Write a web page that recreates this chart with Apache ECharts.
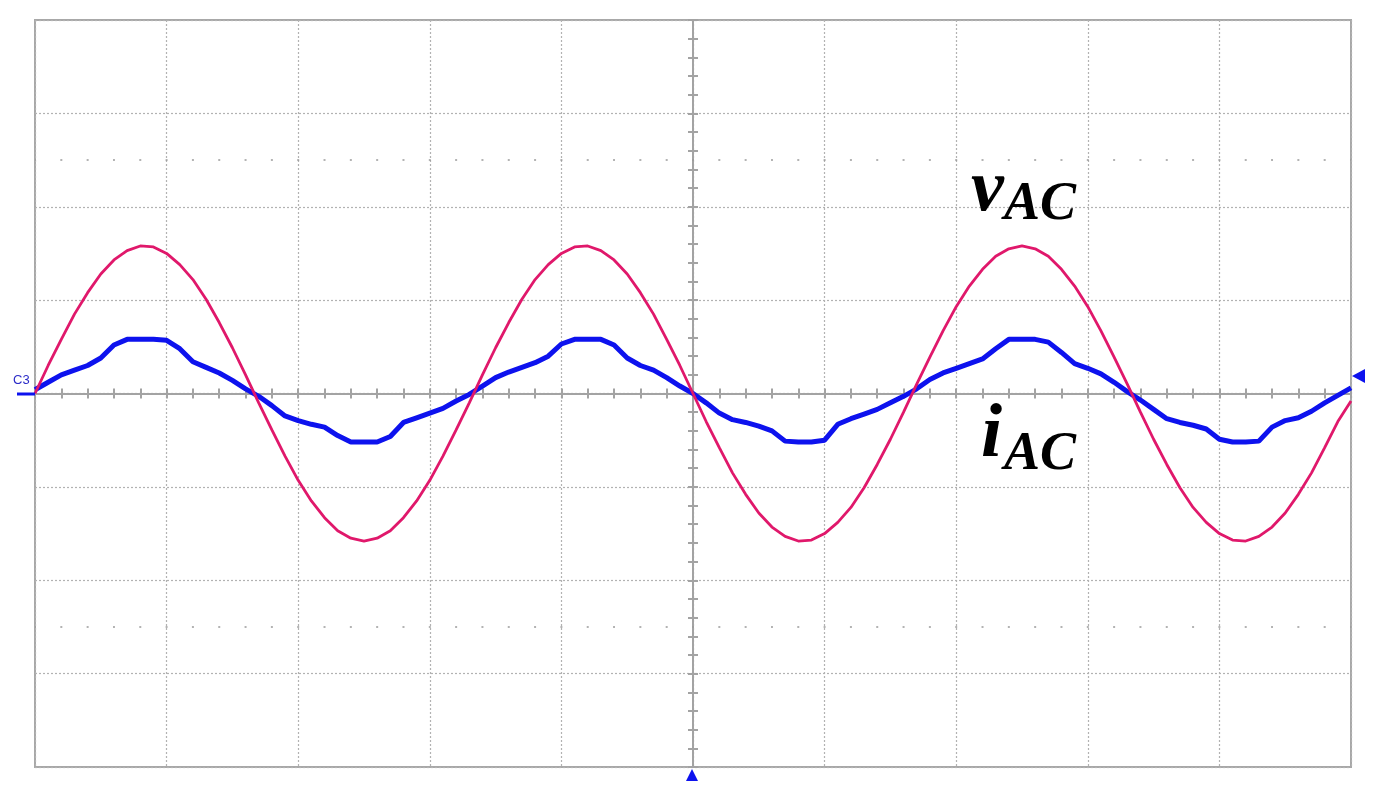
<!DOCTYPE html>
<html>
<head>
<meta charset="utf-8">
<style>
  html, body { margin: 0; padding: 0; background: #fff; }
  #scope { width: 1376px; height: 798px; }
</style>
<script src="https://cdn.jsdelivr.net/npm/echarts@6/dist/echarts.min.js"></script>
</head>
<body>
<div id="scope"></div>
<script>
// time base: divisions from screen centre, one sample every 0.1 div
var tStart = -5;
var tStep = 0.1;

// vAC trace (divisions)
var vAC = [0, 0.30, 0.58, 0.85, 1.08, 1.28, 1.43, 1.53, 1.58, 1.57,
    1.50, 1.38, 1.22, 1.01, 0.76, 0.49, 0.20, -0.10, -0.39, -0.67,
    -0.93, -1.15, -1.33, -1.47, -1.55, -1.58, -1.55, -1.47, -1.33, -1.15,
    -0.93, -0.67, -0.39, -0.10, 0.20, 0.49, 0.76, 1.01, 1.22, 1.38,
    1.50, 1.57, 1.58, 1.53, 1.43, 1.28, 1.08, 0.85, 0.58, 0.30,
    0, -0.30, -0.58, -0.85, -1.08, -1.28, -1.43, -1.53, -1.58, -1.57,
    -1.50, -1.38, -1.22, -1.01, -0.76, -0.49, -0.20, 0.10, 0.39, 0.67,
    0.93, 1.15, 1.33, 1.47, 1.55, 1.58, 1.55, 1.47, 1.33, 1.15,
    0.93, 0.67, 0.39, 0.10, -0.20, -0.49, -0.76, -1.01, -1.22, -1.38,
    -1.50, -1.57, -1.58, -1.53, -1.43, -1.28, -1.08, -0.85, -0.58, -0.30,
    -0.08];

// iAC trace (divisions)
var iAC = [0.04, 0.12, 0.20, 0.25, 0.30, 0.38, 0.52, 0.58, 0.58, 0.58,
    0.57, 0.48, 0.34, 0.28, 0.22, 0.14, 0.05, -0.03, -0.13, -0.24,
    -0.29, -0.33, -0.36, -0.45, -0.52, -0.52, -0.52, -0.46, -0.31, -0.26,
    -0.21, -0.16, -0.08, -0.01, 0.08, 0.17, 0.23, 0.28, 0.33, 0.40,
    0.53, 0.58, 0.58, 0.58, 0.52, 0.38, 0.30, 0.25, 0.17, 0.08,
    0.00, -0.10, -0.21, -0.28, -0.31, -0.35, -0.40, -0.51, -0.52, -0.52,
    -0.50, -0.33, -0.27, -0.22, -0.17, -0.10, -0.03, 0.05, 0.15, 0.22,
    0.27, 0.32, 0.37, 0.48, 0.58, 0.58, 0.58, 0.55, 0.44, 0.32,
    0.27, 0.21, 0.12, 0.02, -0.07, -0.17, -0.27, -0.31, -0.34, -0.38,
    -0.49, -0.52, -0.52, -0.51, -0.36, -0.29, -0.26, -0.19, -0.10, -0.02,
    0.06];

// dotted marker rows
var markRows = [2.5, -2.5];

var dom = document.getElementById("scope");
var myChart = echarts.init(dom, null, { renderer: 'canvas' });

function pairs(vals) {
    var out = [];
    for (var i = 0; i < vals.length; i++) {
        out.push([tStart + i * tStep, vals[i]]);
    }
    return out;
}

var gridColor = '#b2b2b2';
var axisColor = '#a3a3a3';
var traceBlue = '#0d12ee';
var tracePink = '#e0186b';

function centreAxis(pos, withSplit, isX) {
    return {
        type: 'value',
        position: pos,
        min: isX ? -5 : -4,
        max: isX ? 5 : 4,
        interval: 1,
        axisLine: { show: true, onZero: true, lineStyle: { color: axisColor, width: 2 } },
        axisTick: { show: true, length: 5, lineStyle: { color: axisColor, width: 2 } },
        minorTick: { show: true, splitNumber: 5, length: 5, lineStyle: { color: axisColor, width: 2 } },
        axisLabel: { show: false },
        splitLine: { show: withSplit, lineStyle: { color: gridColor, type: [2, 2], width: 1.2 } },
        minorSplitLine: { show: false }
    };
}

option = {
    animation: false,
    backgroundColor: '#fff',
    grid: {
        left: 35, top: 20, right: 25, bottom: 31,
        show: true,
        borderColor: '#a8a8a8',
        borderWidth: 2,
        backgroundColor: '#fff'
    },
    xAxis: [centreAxis('bottom', true, true), centreAxis('top', false, true)],
    yAxis: [centreAxis('left', true, false), centreAxis('right', false, false)],
    series: [
        {
            name: 'iAC',
            type: 'line',
            data: pairs(iAC),
            showSymbol: false,
            lineStyle: { color: traceBlue, width: 5 },
            z: 3,
            markLine: {
                silent: true,
                symbol: 'none',
                label: { show: false },
                lineStyle: { color: '#9a9a9a', width: 1.5, type: [2, 24.32], dashOffset: 1 },
                data: markRows.map(function (v) { return { yAxis: v }; })
            }
        },
        {
            name: 'vAC',
            type: 'line',
            data: pairs(vAC),
            showSymbol: false,
            lineStyle: { color: tracePink, width: 2.8 },
            z: 4
        }
    ],
    graphic: [
        { type: 'text', left: 971, top: 154, z: 10,
          style: { text: 'v', fill: '#000', font: 'italic bold 74px "Liberation Serif"' } },
        { type: 'text', left: 1004, top: 178, z: 10,
          style: { text: 'AC', fill: '#000', font: 'italic bold 54px "Liberation Serif"' } },
        { type: 'text', left: 981, top: 398, z: 10,
          style: { text: 'i', fill: '#000', font: 'italic bold 76px "Liberation Serif"' } },
        { type: 'text', left: 1004, top: 428, z: 10,
          style: { text: 'AC', fill: '#000', font: 'italic bold 54px "Liberation Serif"' } },
        { type: 'text', left: 13, top: 374, z: 10,
          style: { text: 'C3', fill: '#2b2bc8', font: '13px "Liberation Sans"' } },
        { type: 'line', z: 10, shape: { x1: 17, y1: 394, x2: 35, y2: 394 },
          style: { stroke: traceBlue, lineWidth: 3 } },
        { type: 'polygon', z: 10, shape: { points: [[1352, 376], [1365, 369], [1365, 383]] },
          style: { fill: traceBlue } },
        { type: 'polygon', z: 10, shape: { points: [[692, 769], [686, 781], [698, 781]] },
          style: { fill: traceBlue } }
    ]
};

if (option && typeof option === "object") {
    myChart.setOption(option, true);
}
</script>
</body>
</html>
